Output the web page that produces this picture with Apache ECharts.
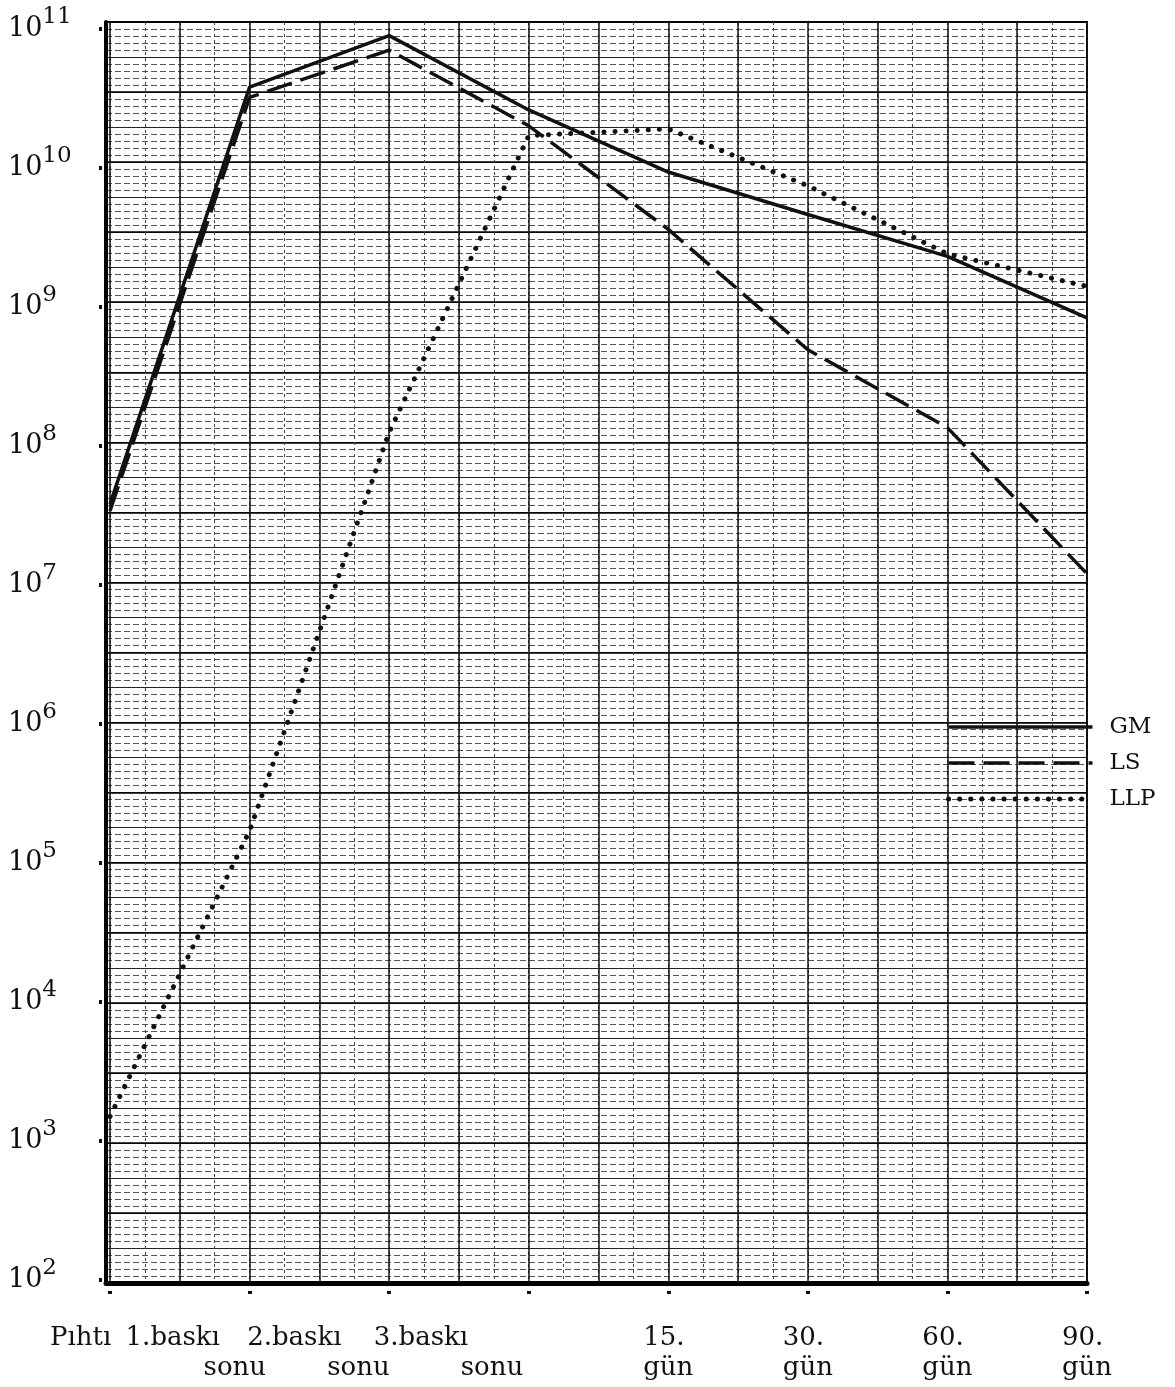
<!DOCTYPE html>
<html>
<head>
<meta charset="utf-8">
<title>GM / LS / LLP</title>
<script src="https://cdn.jsdelivr.net/npm/echarts@6/dist/echarts.min.js"></script>
<style>
  html, body { margin: 0; padding: 0; background: #fff; }
  #chart { width: 1175px; height: 1387px; }
</style>
</head>
<body>
<div id="chart"></div>
<script>
  // categories (two typed lines each)
  const catTop = ['Pıhtı', '1.baskı', '2.baskı', '3.baskı', '15.', '30.', '60.', '90.'];
  const catBottom = ['', 'sonu', 'sonu', 'sonu', 'gün', 'gün', 'gün', 'gün'];

  const gm  = [3.8e7, 3.8e10, 8.9e10, 2.6e10, 9.3e9, 4.6e9, 2.3e9, 8.3e8];
  const ls  = [3.4e7, 3.2e10, 7.0e10, 2.0e10, 3.6e9, 4.9e8, 1.35e8, 1.2e7];
  const llp = [1.5e3, 1.7e5, 1.25e8, 1.7e10, 1.9e10, 7.4e9, 2.4e9, 1.4e9];

  const seriesNames = ['GM', 'LS', 'LLP'];
  const yMin = 1e2, yMax = 1e11;

  const FONT = 'DejaVu Serif';
  const INK = '#111';

  // the typed labels sit left of their tick (px from the tick)
  const firstLineShift = [-60, -124, -142, -155];
  const secondLineShift = [0, -46, -62, -68];

  const txt = { fontFamily: FONT, fontSize: 26, lineHeight: 30, color: INK, align: 'left' };
  const xRich = { g: Object.assign({}, txt) };
  firstLineShift.forEach((s, i) => {
    xRich['a' + i] = Object.assign({}, txt, { width: -2 * s });
    xRich['b' + i] = Object.assign({}, txt, { padding: [0, 0, 0, secondLineShift[i] - s] });
  });

  function xLabel(value, index) {
    if (index === 0) return '{a0|' + catTop[index] + '}';
    if (index <= 3) return '{a' + index + '|' + catTop[index] + '}\n{b' + index + '|' + catBottom[index] + '}';
    return '{g|' + catTop[index] + '}\n{g|' + catBottom[index] + '}';
  }

  function yLabel(v) {
    const e = Math.round(Math.log10(v));
    return '{b|10}{s|' + e + '}';
  }

  const hidden = { axisLine: { show: false }, axisTick: { show: false }, axisLabel: { show: false } };

  const myChart = echarts.init(document.getElementById('chart'));
  const option = {
    animation: false,
    backgroundColor: '#fff',
    legend: {
      data: [
        { name: 'GM', lineStyle: { width: 3.5 } },
        { name: 'LS', lineStyle: { width: 3.5 } },
        { name: 'LLP', lineStyle: { width: 5 } }
      ],
      orient: 'vertical',
      left: 946,
      top: 715,
      padding: 0,
      itemWidth: 144,
      itemHeight: 14,
      itemGap: 12,
      selectedMode: false,
      itemStyle: { opacity: 0 },
      textStyle: { fontFamily: FONT, fontSize: 23, color: INK, lineHeight: 24, padding: [0, 0, 0, 12] }
    },
    grid: [
      // graph paper: horizontal rulings and frame
      { left: 106, right: 88, top: 22, bottom: 104, show: true, borderColor: '#000', borderWidth: 2 },
      // data
      { left: 110, right: 88, top: 28.6, bottom: 107 },
      // graph paper: vertical rulings
      { left: 110, right: 88, top: 22, bottom: 104 }
    ],
    xAxis: [
      {
        type: 'category', gridIndex: 1, data: catTop, boundaryGap: false,
        axisLine: { show: false }, axisTick: { show: false }, splitLine: { show: false },
        axisLabel: { interval: 0, margin: 43, formatter: xLabel, rich: xRich }
      },
      {
        // dots under the axis
        type: 'category', gridIndex: 1, data: catTop, boundaryGap: false, position: 'bottom', offset: 11,
        axisLine: { show: false }, axisLabel: { show: false }, splitLine: { show: false },
        axisTick: { show: true, length: 3, interval: 0, lineStyle: { color: INK, width: 4 } }
      },
      Object.assign({
        type: 'value', gridIndex: 0, min: 0, max: 1, position: 'bottom', splitLine: { show: false }
      }, hidden, {
        axisLine: { show: true, onZero: false, lineStyle: { color: '#000', width: 5 } }
      }),
      Object.assign({
        type: 'value', gridIndex: 2, min: 0, max: 28, interval: 1, position: 'bottom',
        splitLine: { show: true, lineStyle: { color: '#444', width: 1, type: [3, 3] } }
      }, hidden),
      Object.assign({
        type: 'value', gridIndex: 2, min: 0, max: 28, interval: 2, position: 'bottom',
        splitLine: { show: true, lineStyle: { color: '#111', width: 1.5 } }
      }, hidden)
    ],
    yAxis: [
      {
        type: 'log', gridIndex: 1, min: yMin, max: yMax, logBase: 10,
        axisLine: { show: false }, axisTick: { show: false }, splitLine: { show: false },
        axisLabel: {
          align: 'left', margin: 102, formatter: yLabel,
          rich: {
            b: { fontFamily: FONT, fontSize: 27, lineHeight: 46, color: INK },
            s: { fontFamily: FONT, fontSize: 23, lineHeight: 22, color: INK, verticalAlign: 'top' }
          }
        }
      },
      {
        // dots left of the axis
        type: 'log', gridIndex: 1, min: yMin, max: yMax, logBase: 10, position: 'left', offset: 8,
        axisLine: { show: false }, axisLabel: { show: false }, splitLine: { show: false },
        axisTick: { show: true, length: 3, lineStyle: { color: INK, width: 4 } }
      },
      Object.assign({
        type: 'value', gridIndex: 0, min: 0, max: 180, interval: 1, position: 'left',
        splitLine: { show: true, lineStyle: { color: '#555', width: 1, type: [6, 3] } }
      }, hidden),
      Object.assign({
        type: 'value', gridIndex: 0, min: 0, max: 36, interval: 1, position: 'left',
        splitLine: { show: true, lineStyle: { color: '#222', width: 1.2 } }
      }, hidden),
      Object.assign({
        type: 'value', gridIndex: 0, min: 0, max: 18, interval: 1, position: 'left',
        splitLine: { show: true, lineStyle: { color: '#000', width: 1.6 } }
      }, hidden, {
        axisLine: { show: true, onZero: false, lineStyle: { color: '#000', width: 4 } }
      }),
      Object.assign({
        type: 'value', gridIndex: 2, min: 0, max: 1, position: 'left', splitLine: { show: false }
      }, hidden)
    ],
    series: [
      {
        name: 'GM', type: 'line', xAxisIndex: 0, yAxisIndex: 0, data: gm,
        symbol: 'none', itemStyle: { color: INK, opacity: 0 },
        lineStyle: { color: INK, width: 3.5 }
      },
      {
        name: 'LS', type: 'line', xAxisIndex: 0, yAxisIndex: 0, data: ls,
        symbol: 'none', itemStyle: { color: INK, opacity: 0 },
        lineStyle: { color: INK, width: 3.5, type: [26, 9] }
      },
      {
        name: 'LLP', type: 'line', xAxisIndex: 0, yAxisIndex: 0, data: llp,
        symbol: 'none', itemStyle: { color: INK, opacity: 0 },
        lineStyle: { color: INK, width: 5, type: [0.1, 11], cap: 'round' }
      }
    ]
  };
  myChart.setOption(option);
</script>
</body>
</html>
